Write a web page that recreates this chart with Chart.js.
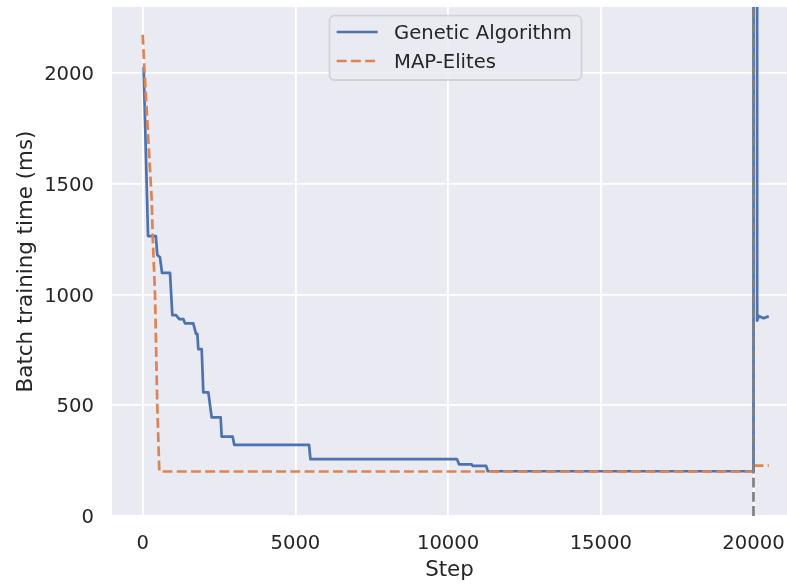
<!DOCTYPE html>
<html>
<head>
<meta charset="utf-8">
<script src="https://cdn.jsdelivr.net/npm/chart.js@4.4.1/dist/chart.umd.min.js"></script>
<style>
  html, body { margin: 0; padding: 0; background: #ffffff; }
  #c { display: block; }
</style>
</head>
<body>
<canvas id="c" width="787" height="585"></canvas>
<script>
// ---- data ----
const seriesNames = ["Genetic Algorithm", "MAP-Elites"];

const gaSteps  = [30, 175, 430, 480, 566, 632, 894, 970, 1091, 1199, 1330, 1385, 1657, 1746, 1790, 1821, 1932, 1985, 2149, 2258, 2553, 2586, 2946, 3000, 5448, 5491, 10287, 10362, 10777, 10810, 11245, 11300, 20000, 20060, 20120, 20170, 20330, 20450, 20500];
const gaValues = [2027, 1264, 1264, 1178, 1168, 1098, 1098, 907, 907, 889, 889, 870, 870, 822, 822, 753, 753, 558, 558, 445, 445, 358, 358, 321, 321, 257, 257, 233, 233, 226, 226, 202, 202, 60000, 882, 903, 893, 900, 898];

const meSteps  = [0, 52, 295, 328, 403, 478, 544, 20000, 20010, 20500];
const meValues = [2172, 2027, 1427, 1264, 1002, 498, 201, 201, 227, 227];

const markerStep = 20000;            // vertical dashed reference line

const xTicks = [0, 5000, 10000, 15000, 20000];
const yTicks = [0, 500, 1000, 1500, 2000];
const xRange = [-1005, 21097];
const yRange = [0, 2298];

// ---- styling ----
const BLUE = '#4C72B0', ORANGE = '#DD8452', GRAY = '#808080';
const TEXT = '#262626';
const LW = 2.7;
const DASH = [9.9, 4.3];
const FONT = '"DejaVu Sans", sans-serif';

const toXY = (xs, ys) => xs.map((x, i) => ({ x: x, y: ys[i] }));
const noPad = s => { s.paddingLeft = 0; s.paddingRight = 0; s.paddingTop = 0; s.paddingBottom = 0; };

const bgPlugin = {
  id: 'bg',
  beforeDraw(chart) {
    const { ctx, chartArea: a } = chart;
    ctx.save();
    ctx.fillStyle = '#EAEAF2';
    ctx.fillRect(a.left, a.top, a.right - a.left, a.bottom - a.top);
    ctx.restore();
  }
};

const legendPlugin = {
  id: 'boxLegend',
  afterDatasetsDraw(chart) {
    const { ctx, chartArea: a } = chart;
    const x0 = a.left + 217.5, y0 = a.top + 8.7, w = 252, h = 64.3, r = 5;
    ctx.save();
    ctx.beginPath();
    ctx.roundRect(x0, y0, w, h, r);
    ctx.fillStyle = 'rgba(234,234,242,0.8)';
    ctx.fill();
    ctx.lineWidth = 1.8;
    ctx.strokeStyle = 'rgba(204,204,204,0.8)';
    ctx.stroke();

    const items = [
      { label: seriesNames[0], color: BLUE, dash: [] },
      { label: seriesNames[1], color: ORANGE, dash: DASH }
    ];
    const rowY = [y0 + 16.3, y0 + 45.3];
    const baseY = [y0 + 23.6, y0 + 52.6];
    items.forEach((it, i) => {
      ctx.beginPath();
      ctx.setLineDash(it.dash);
      ctx.lineWidth = LW;
      ctx.lineCap = 'butt';
      ctx.strokeStyle = it.color;
      ctx.moveTo(x0 + 7.2, rowY[i]);
      ctx.lineTo(x0 + 48.2, rowY[i]);
      ctx.stroke();
      ctx.setLineDash([]);
      ctx.fillStyle = TEXT;
      ctx.font = '19.6px ' + FONT;
      ctx.textAlign = 'left';
      ctx.textBaseline = 'alphabetic';
      ctx.fillText(it.label, x0 + 64.5, baseY[i]);
    });
    ctx.restore();
  }
};

new Chart(document.getElementById('c'), {
  type: 'line',
  data: {
    datasets: [
      {
        label: 'marker',
        data: [{ x: markerStep, y: yRange[0] }, { x: markerStep, y: yRange[1] }],
        borderColor: GRAY, borderWidth: LW, borderDash: DASH,
        pointRadius: 0, tension: 0, order: 0
      },
      {
        label: seriesNames[1],
        data: toXY(meSteps, meValues),
        borderColor: ORANGE, borderWidth: LW, borderDash: DASH,
        borderJoinStyle: 'round', borderCapStyle: 'butt',
        pointRadius: 0, tension: 0, order: 1
      },
      {
        label: seriesNames[0],
        data: toXY(gaSteps, gaValues),
        borderColor: BLUE, borderWidth: LW,
        borderJoinStyle: 'round', borderCapStyle: 'butt',
        pointRadius: 0, tension: 0, order: 2
      }
    ]
  },
  options: {
    responsive: false,
    animation: false,
    devicePixelRatio: 1,
    layout: { padding: { top: 7, right: 0, left: 0, bottom: 0 } },
    plugins: {
      legend: { display: false },
      tooltip: { enabled: false }
    },
    scales: {
      x: {
        type: 'linear',
        min: xRange[0], max: xRange[1],
        afterBuildTicks(s) { s.ticks = xTicks.map(v => ({ value: v })); },
        afterFit(s) { s.height = 69; noPad(s); },
        grid: { color: '#ffffff', lineWidth: 1.78, drawTicks: false },
        border: { display: false },
        ticks: {
          color: TEXT, padding: 16.5, maxRotation: 0, autoSkip: false,
          font: { family: FONT, size: 19.6 },
          callback: v => String(v)
        },
        title: {
          display: true, text: 'Step', color: TEXT,
          font: { family: FONT, size: 21.4 },
          padding: { top: 0, bottom: 1.5 }
        }
      },
      y: {
        type: 'linear',
        min: yRange[0], max: yRange[1],
        afterBuildTicks(s) { s.ticks = yTicks.map(v => ({ value: v })); },
        afterFit(s) { s.width = 112; noPad(s); },
        grid: { color: '#ffffff', lineWidth: 1.78, drawTicks: false },
        border: { display: false },
        ticks: {
          color: TEXT, padding: 18, autoSkip: false, labelOffset: 2,
          font: { family: FONT, size: 19.6 },
          callback: v => String(v)
        },
        title: {
          display: true, text: 'Batch training time (ms)', color: TEXT,
          font: { family: FONT, size: 21.4 },
          padding: { top: 13.4, bottom: 0 }
        }
      }
    }
  },
  plugins: [bgPlugin, legendPlugin]
});
</script>
</body>
</html>
